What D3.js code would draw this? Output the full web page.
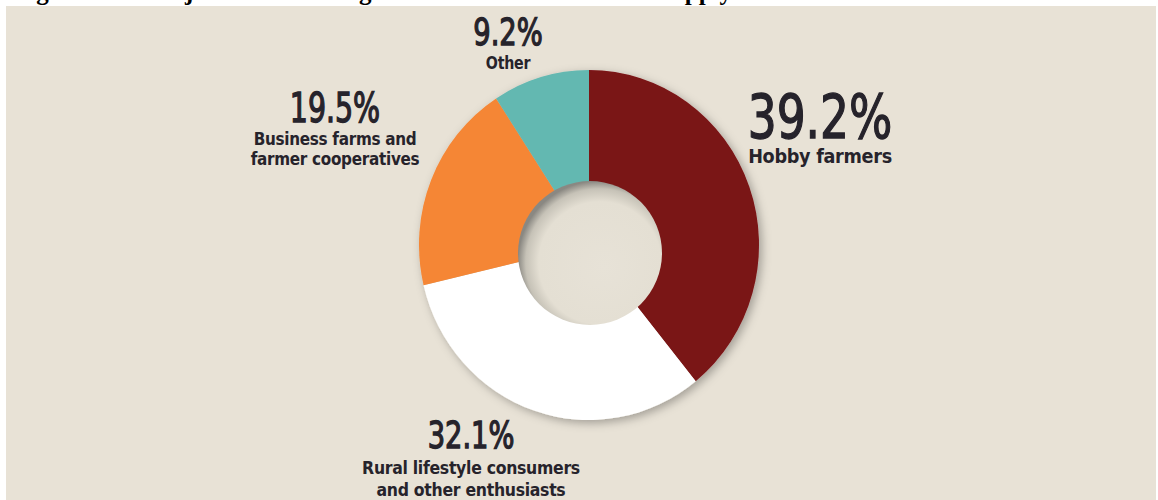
<!DOCTYPE html>
<html>
<head>
<meta charset="utf-8">
<script src="https://cdn.jsdelivr.net/npm/d3@7"></script>
<style>
  html, body { margin: 0; padding: 0; background: #ffffff; }
  svg { display: block; }
</style>
</head>
<body>
<svg id="chart" width="1158" height="500"></svg>
<script>
// Customer segments (share of sales, %)
const categories = ["Hobby farmers", "Rural lifestyle consumers and other enthusiasts", "Business farms and farmer cooperatives", "Other"];
const values = [39.2, 32.1, 19.5, 9.2];
const labelLines = [
  ["Hobby farmers"],
  ["Rural lifestyle consumers", "and other enthusiasts"],
  ["Business farms and", "farmer cooperatives"],
  ["Other"]
];
const colors = ["#7a1315", "#ffffff", "#f58634", "#63b8b1"];
const titleText = "Figure 10.2: Major Customer Segments of Farm and Ranch Supply Stores";

const W = 1158, H = 500;
const svg = d3.select("#chart");
const defs = svg.append("defs");

// panel background
svg.append("rect").attr("x", 6).attr("y", 6).attr("width", W - 8).attr("height", H - 6).attr("fill", "#e8e2d6");

// title (only its lower edge shows above the panel)
svg.append("text")
  .attr("x", 14).attr("y", 0)
  .attr("font-family", "'Liberation Serif', 'Times New Roman', serif")
  .attr("font-weight", "bold").attr("font-size", 25)
  .attr("fill", "#000")
  .text(titleText);

// soft shadow under the ring
const shadow = defs.append("filter").attr("id", "ringShadow")
  .attr("x", "-20%").attr("y", "-20%").attr("width", "140%").attr("height", "140%");
shadow.append("feDropShadow").attr("dx", 3).attr("dy", 3).attr("stdDeviation", 5)
  .attr("flood-color", "#000").attr("flood-opacity", 0.3);

// recessed centre shading
const holeGrad = defs.append("radialGradient").attr("id", "holeGrad")
  .attr("cx", "56%").attr("cy", "56%").attr("r", "56%").attr("fx", "60%").attr("fy", "60%");
holeGrad.append("stop").attr("offset", "0%").attr("stop-color", "#e7e2d7");
holeGrad.append("stop").attr("offset", "76%").attr("stop-color", "#e4dfd3");
holeGrad.append("stop").attr("offset", "91%").attr("stop-color", "#c6c2b7");
holeGrad.append("stop").attr("offset", "100%").attr("stop-color", "#8a8882");

const cx = 589, cy = 245, rx = 170, ry = 175;
const holeX = 590, holeY = 253, holeR = 72;

const pie = d3.pie().sort(null).value(d => d)(values);
const arc = d3.arc().innerRadius(0).outerRadius(rx);

const ring = svg.append("g").attr("filter", "url(#ringShadow)")
  .append("g").attr("transform", `translate(${cx},${cy}) scale(1,${ry / rx})`);
ring.selectAll("path").data(pie).join("path")
  .attr("d", arc)
  .attr("fill", (d, i) => colors[i]);

svg.append("circle").attr("cx", holeX).attr("cy", holeY).attr("r", holeR).attr("fill", "url(#holeGrad)");

// labels: big percentage then category lines
const font = "'Liberation Sans Narrow', 'DejaVu Sans Condensed', 'Open Sans', sans-serif";
const labelPos = [
  { x: 820, y: 138, size: 61, sx: 0.83, sub: 20, subSx: 0.98, subY: [163] },
  { x: 471, y: 448, size: 37, sx: 0.82, sub: 18, subSx: 0.97, subY: [474, 496] },
  { x: 335, y: 122, size: 40, sx: 0.79, sub: 18, subSx: 0.94, subY: [145, 165] },
  { x: 508, y: 45, size: 38, sx: 0.8, sub: 17, subSx: 0.93, subY: [69] }
];
const lg = svg.append("g").attr("fill", "#26232b").attr("font-family", font);
values.forEach((v, i) => {
  const p = labelPos[i];
  lg.append("text")
    .attr("transform", `translate(${p.x},${p.y}) scale(${p.sx},1)`)
    .attr("text-anchor", "middle").attr("font-size", p.size)
    .attr("stroke", "#26232b").attr("stroke-width", 1.3)
    .text(d3.format(".1f")(v) + "%");
  labelLines[i].forEach((line, j) => {
    lg.append("text")
      .attr("transform", `translate(${p.x},${p.subY[j]}) scale(${p.subSx},1)`)
      .attr("text-anchor", "middle").attr("font-size", p.sub).attr("font-weight", "bold")
      .attr("letter-spacing", -0.3)
      .text(line);
  });
});
</script>
</body>
</html>
